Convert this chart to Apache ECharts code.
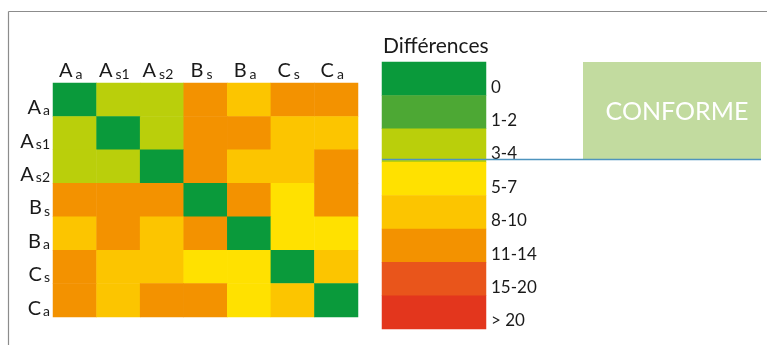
<!DOCTYPE html>
<html>
<head>
<meta charset="utf-8">
<script src="https://cdn.jsdelivr.net/npm/echarts@6/dist/echarts.min.js"></script>
<style>
html,body{margin:0;padding:0;background:#fff;}
#chart{width:767px;height:345px;}
</style>
</head>
<body>
<div id="chart"></div>
<script>
// Categories: first char = main letter, rest = subscript
const categories = ['Aa', 'As1', 'As2', 'Bs', 'Ba', 'Cs', 'Ca'];
// Representative difference per cell (row = y category, col = x category)
const rowAa  = [0, 3, 3, 12, 9, 12, 12];
const rowAs1 = [3, 0, 3, 12, 12, 9, 9];
const rowAs2 = [3, 3, 0, 12, 9, 9, 12];
const rowBs  = [12, 12, 12, 0, 12, 6, 12];
const rowBa  = [9, 12, 9, 12, 0, 6, 6];
const rowCs  = [12, 9, 9, 6, 6, 0, 9];
const rowCa  = [12, 9, 12, 12, 6, 9, 0];
const matrix = [rowAa, rowAs1, rowAs2, rowBs, rowBa, rowCs, rowCa];

const legendTitle = 'Différences';
const legendLabels = ['0', '1-2', '3-4', '5-7', '8-10', '11-14', '15-20', '> 20'];
const legendValues = [0, 1.5, 3.5, 6, 9, 12, 17, 25];
const classColors = ['#0A9A3B', '#4DA834', '#BACF0B', '#FFE100', '#FCC500', '#F39200', '#E9551B', '#E3361D'];
const classBounds = [0.5, 2.5, 4.5, 7.5, 10.5, 14.5, 20.5];
const conformeText = 'CONFORME';

const heatData = [];
matrix.forEach((row, r) => row.forEach((v, c) => heatData.push([c, r, v])));
const legendData = legendValues.map((v, i) => [0, i, v]);

const pieces = classColors.map((col, i) => {
  const p = { color: col };
  if (i > 0) p.gt = classBounds[i - 1];
  if (i < classBounds.length) p.lte = classBounds[i];
  return p;
});

const FONT = 'Lato';
const catRichX = {
  m: { fontFamily: FONT, fontSize: 20, color: '#1a1a1a', lineHeight: 22, verticalAlign: 'bottom' },
  s: { fontFamily: FONT, fontSize: 14, color: '#1a1a1a', lineHeight: 14, verticalAlign: 'bottom', padding: [0, 0, 0, 3] },
  p: { width: 8, lineHeight: 14 }
};
const catRichY = {
  m: { fontFamily: FONT, fontSize: 20, color: '#1a1a1a', lineHeight: 18, verticalAlign: 'bottom' },
  s: { fontFamily: FONT, fontSize: 14, color: '#1a1a1a', lineHeight: 12, verticalAlign: 'bottom', padding: [0, 0, 0, 2] }
};
const catFormatterX = (v) => '{m|' + v.charAt(0) + '}{s|' + v.slice(1) + '}{p|}';
const catFormatterY = (v) => '{m|' + v.charAt(0) + '}{s|' + v.slice(1) + '}';

const chart = echarts.init(document.getElementById('chart'), null, { renderer: 'canvas' });
chart.setOption({
  backgroundColor: '#ffffff',
  animation: false,
  title: {
    text: legendTitle, left: 378, top: 31,
    textStyle: { fontFamily: FONT, fontSize: 21, fontWeight: 'normal', color: '#1a1a1a' }
  },
  grid: [
    { left: 53, top: 83, width: 305, height: 234 },
    { left: 382, top: 62, width: 104, height: 267 }
  ],
  xAxis: [
    { type: 'category', gridIndex: 0, data: categories, position: 'top',
      axisLine: { show: false }, axisTick: { show: false }, splitLine: { show: false },
      axisLabel: { interval: 0, margin: 2, formatter: catFormatterX, rich: catRichX } },
    { type: 'category', gridIndex: 1, data: [''], show: false }
  ],
  yAxis: [
    { type: 'category', gridIndex: 0, data: categories, inverse: true,
      axisLine: { show: false }, axisTick: { show: false }, splitLine: { show: false },
      axisLabel: { interval: 0, margin: 3, formatter: catFormatterY, rich: catRichY, verticalAlign: 'top' } },
    { type: 'category', gridIndex: 1, data: legendLabels, inverse: true, position: 'right',
      axisLine: { show: false }, axisTick: { show: false }, splitLine: { show: false },
      axisLabel: { interval: 0, margin: 5, fontFamily: FONT, fontSize: 17, lineHeight: 17, color: '#1a1a1a', verticalAlign: 'top' } }
  ],
  visualMap: {
    type: 'piecewise', show: false, seriesIndex: [0, 1], dimension: 2, pieces: pieces
  },
  series: [
    { type: 'heatmap', xAxisIndex: 0, yAxisIndex: 0, data: heatData, itemStyle: { borderWidth: 0 }, emphasis: { disabled: true } },
    { type: 'heatmap', xAxisIndex: 1, yAxisIndex: 1, data: legendData, itemStyle: { borderWidth: 0 }, emphasis: { disabled: true } }
  ],
  graphic: [
    { type: 'line', shape: { x1: 8.5, y1: 11.5, x2: 767, y2: 11.5 }, style: { stroke: '#8c8c8c', lineWidth: 1.2 }, silent: true },
    { type: 'line', shape: { x1: 8.5, y1: 11.5, x2: 8.5, y2: 345 }, style: { stroke: '#8c8c8c', lineWidth: 1.2 }, silent: true },
    { type: 'rect', shape: { x: 583, y: 62, width: 178, height: 97 }, style: { fill: '#C2DB9F' }, silent: true },
    { type: 'text', x: 677, y: 112, style: { text: conformeText, fill: '#ffffff', font: '25px Lato', align: 'center', verticalAlign: 'middle' }, silent: true },
    { type: 'line', shape: { x1: 382, y1: 159.5, x2: 761, y2: 159.5 }, style: { stroke: '#4E94BE', lineWidth: 1.5 }, silent: true, z: 10 }
  ]
});
</script>
</body>
</html>
